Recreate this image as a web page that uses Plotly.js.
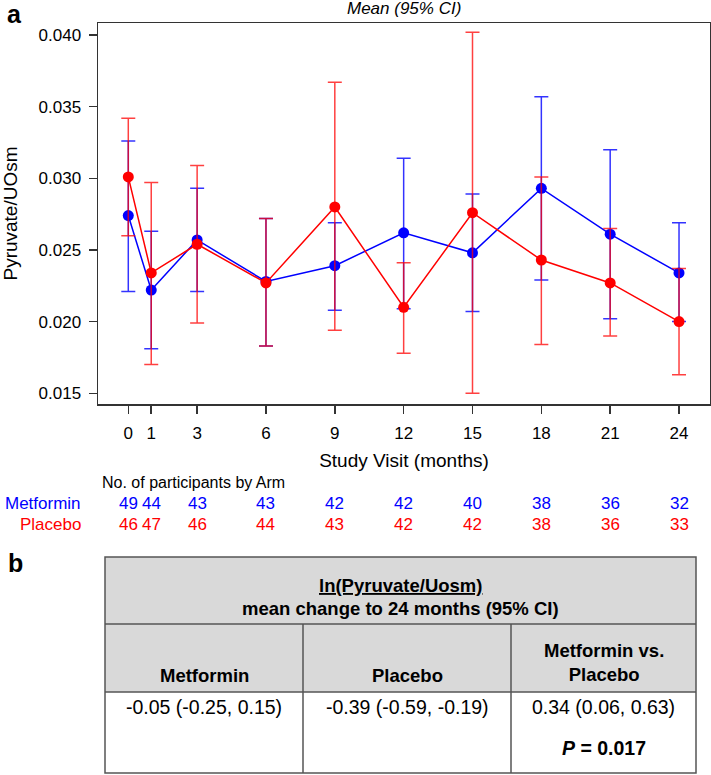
<!DOCTYPE html>
<html>
<head>
<meta charset="utf-8">
<script src="https://cdn.plot.ly/plotly-3.0.1.min.js"></script>
<style>html,body{margin:0;padding:0;background:#fff;}#chart{width:711px;height:775px;}</style>
</head>
<body>
<div id="chart"></div>
<script>
// ---- data ----
const months = [0, 1, 3, 6, 9, 12, 15, 18, 21, 24];
const metMean = [0.0274, 0.0222, 0.0257, 0.0228, 0.0239, 0.0262, 0.0248, 0.0293, 0.0261, 0.0234];
const metHi   = [0.0326, 0.0263, 0.0293, 0.0272, 0.0269, 0.0314, 0.0289, 0.0357, 0.0320, 0.0269];
const metLo   = [0.0221, 0.0181, 0.0221, 0.0183, 0.0208, 0.0209, 0.0207, 0.0229, 0.0202, 0.0200];
const plaMean = [0.0301, 0.0234, 0.0254, 0.0227, 0.0280, 0.0210, 0.0276, 0.0243, 0.0227, 0.0200];
const plaHi   = [0.0342, 0.0297, 0.0309, 0.0272, 0.0367, 0.0241, 0.0402, 0.0301, 0.0265, 0.0237];
const plaLo   = [0.0260, 0.0170, 0.0199, 0.0183, 0.0194, 0.0178, 0.0150, 0.0184, 0.0190, 0.0163];
const metN = [49, 44, 43, 43, 42, 42, 40, 38, 36, 32];
const plaN = [46, 47, 46, 44, 43, 42, 42, 38, 36, 33];
const yTicks = [0.015, 0.020, 0.025, 0.030, 0.035, 0.040];
const armNames = ['Metformin', 'Placebo'];
const tableTitle = ['ln(Pyruvate/Uosm)', 'mean change to 24 months (95% CI)'];
const tableCols = ['Metformin', 'Placebo', 'Metformin vs.<br>Placebo'];
const tableVals = ['-0.05 (-0.25, 0.15)', '-0.39 (-0.59, -0.19)', '0.34 (0.06, 0.63)'];
const pText = '<i>P</i> = 0.017';

// ---- helpers (pixel -> paper) ----
const W = 711, H = 775;
const px = x => x / W;
const py = y => 1 - y / H;
const FONT = 'Liberation Sans, Arial, sans-serif';
const BLUE = '#0000ff', RED = '#ff0000';

function errs(mean, hi, lo) {
  return {
    plus: hi.map((v, i) => +(v - mean[i]).toFixed(6)),
    minus: lo.map((v, i) => +(mean[i] - v).toFixed(6))
  };
}
const eM = errs(metMean, metHi, metLo);
const eP = errs(plaMean, plaHi, plaLo);

const traces = [
  {
    x: months, y: metMean, name: armNames[0], type: 'scatter', mode: 'lines+markers',
    line: {color: BLUE, width: 1.5}, marker: {color: BLUE, size: 11},
    error_y: {type: 'data', symmetric: false, array: eM.plus, arrayminus: eM.minus,
              color: 'rgba(0,0,255,0.8)', thickness: 1.5, width: 7}
  },
  {
    x: months, y: plaMean, name: armNames[1], type: 'scatter', mode: 'lines+markers',
    line: {color: RED, width: 1.5}, marker: {color: RED, size: 11},
    error_y: {type: 'data', symmetric: false, array: eP.plus, arrayminus: eP.minus,
              color: 'rgba(255,0,0,0.75)', thickness: 1.5, width: 7}
  }
];

const ann = [];
const txt = (x, y, text, opts) => Object.assign({
  xref: 'paper', yref: 'paper', x: px(x), y: py(y), text: text, showarrow: false,
  xanchor: 'center', yanchor: 'middle', font: {family: FONT, size: 18.5, color: '#000'}
}, opts || {});

ann.push(txt(14, 14, '<b>a</b>', {font: {family: FONT, size: 25, color: '#000'}}));
ann.push(txt(404, 9, '<i>Mean (95% CI)</i>', {font: {family: FONT, size: 17, color: '#000'}}));
ann.push(txt(100, 482, 'No. of participants by Arm', {xanchor: 'left', font: {family: FONT, size: 16, color: '#000'}}));
ann.push(txt(83, 503, armNames[0], {xanchor: 'right', font: {family: FONT, size: 17, color: BLUE}}));
ann.push(txt(83, 524, armNames[1], {xanchor: 'right', font: {family: FONT, size: 17, color: RED}}));
months.forEach((m, i) => {
  ann.push({xref: 'x', yref: 'paper', x: m, y: py(503), text: String(metN[i]), showarrow: false,
            xanchor: 'center', yanchor: 'middle', font: {family: FONT, size: 17, color: BLUE}});
  ann.push({xref: 'x', yref: 'paper', x: m, y: py(524), text: String(plaN[i]), showarrow: false,
            xanchor: 'center', yanchor: 'middle', font: {family: FONT, size: 17, color: RED}});
});

// panel b
ann.push(txt(15, 563, '<b>b</b>', {font: {family: FONT, size: 25, color: '#000'}}));
const tL = 105, tR = 696, tT = 557, tH1 = 624, tH2 = 692, tB = 773, c1 = 303, c2 = 511;
ann.push(txt((tL + tR) / 2, 585, '<b><span style="text-decoration:underline">' + tableTitle[0] + '</span></b>'));
ann.push(txt((tL + tR) / 2, 608, '<b>' + tableTitle[1] + '</b>'));
const colC = [(tL + c1) / 2, (c1 + c2) / 2, (c2 + tR) / 2];
tableCols.forEach((c, i) => {
  const twoLine = c.indexOf('<br>') >= 0;
  ann.push(txt(colC[i], twoLine ? 662 : 675, '<b>' + c + '</b>'));
});
tableVals.forEach((v, i) => ann.push(txt(colC[i], 707, v, {font: {family: FONT, size: 19.5, color: '#000'}})));
ann.push(txt(colC[2], 748, '<b>' + pText + '</b>', {font: {family: FONT, size: 19.5, color: '#000'}}));

const LC = '#555';
const shapes = [
  {type: 'rect', xref: 'paper', yref: 'paper', x0: px(tL), x1: px(tR), y0: py(tT), y1: py(tH2),
   fillcolor: '#d9d9d9', line: {width: 0}, layer: 'below'},
  {type: 'rect', xref: 'paper', yref: 'paper', x0: px(tL), x1: px(tR), y0: py(tT), y1: py(tB),
   line: {color: LC, width: 1.5}},
  {type: 'line', xref: 'paper', yref: 'paper', x0: px(tL), x1: px(tR), y0: py(tH1), y1: py(tH1), line: {color: LC, width: 1.5}},
  {type: 'line', xref: 'paper', yref: 'paper', x0: px(tL), x1: px(tR), y0: py(tH2), y1: py(tH2), line: {color: LC, width: 1.5}},
  {type: 'line', xref: 'paper', yref: 'paper', x0: px(c1), x1: px(c1), y0: py(tH1), y1: py(tB), line: {color: LC, width: 1.5}},
  {type: 'line', xref: 'paper', yref: 'paper', x0: px(c2), x1: px(c2), y0: py(tH1), y1: py(tB), line: {color: LC, width: 1.5}}
];

const axisCommon = {
  showline: true, linecolor: '#333', linewidth: 1.5, mirror: true,
  ticks: 'outside', ticklen: 8, tickwidth: 1.5, tickcolor: '#333',
  showgrid: false, zeroline: false, tickfont: {family: FONT, size: 17, color: '#000'}
};

const layout = {
  width: W, height: H, margin: {l: 0, r: 0, t: 0, b: 0},
  paper_bgcolor: '#fff', plot_bgcolor: '#fff', showlegend: false,
  font: {family: FONT, color: '#000'},
  xaxis: Object.assign({}, axisCommon, {
    domain: [px(98), px(710)], range: [-1.32, 25.35],
    tickmode: 'array', tickvals: months, ticktext: months.map(String),
    ticklabelstandoff: 5,
    title: {text: 'Study Visit (months)', font: {family: FONT, size: 19, color: '#000'}, standoff: 12}
  }),
  yaxis: Object.assign({}, axisCommon, {
    domain: [py(404), py(23)], range: [0.01425, 0.04084],
    tickmode: 'array', tickvals: yTicks, tickformat: '.3f',
    ticklabelstandoff: 4,
    title: {text: 'Pyruvate/UOsm', font: {family: FONT, size: 19, color: '#000'}, standoff: 17}
  }),
  annotations: ann,
  shapes: shapes
};

Plotly.newPlot('chart', traces, layout, {displayModeBar: false, staticPlot: true});
</script>
</body>
</html>
